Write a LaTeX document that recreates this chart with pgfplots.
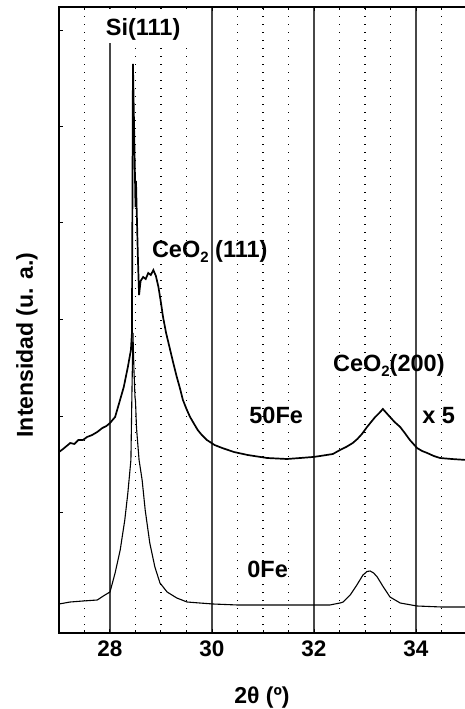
\documentclass[border=0pt]{standalone}
\usepackage{fontspec}
\setmainfont{Liberation Sans}
\usepackage{pgfplots}
\pgfplotsset{compat=1.18}
\newcommand{\sub}[1]{\raisebox{-0.4ex}{\fontsize{15}{15}\selectfont #1}}
\begin{document}
\begin{tikzpicture}[x=1pt,y=1pt]
\useasboundingbox (0,0) rectangle (464,709);
\begin{axis}[
  at={(59pt,76pt)}, anchor=south west,
  width=408pt, height=626pt, scale only axis,
  xmin=27, xmax=35, ymin=0, ymax=626,
  clip=false,
  xtick={28,30,32,34},
  minor xtick={27.5,28.5,29,29.5,30.5,31,31.5,32.5,33,33.5,34.5},
  ytick={120,216,313,410,506,602},
  yticklabels={},
  ytick pos=left,
  tick align=inside,
  major tick length=4pt, minor tick length=3pt,
  tick style={line width=1pt, black},
  xmajorgrids, xminorgrids,
  major grid style={draw=black!72, line width=1.2pt},
  minor grid style={draw=black, line width=1.3pt, dash pattern=on 1.3pt off 6.7pt},
  axis line style={line width=1.4pt},
  /pgf/number format/assume math mode=true,
  xticklabel style={font=\fontsize{22.5}{26}\selectfont\bfseries, yshift=-4pt},
]
\fill[white] (axis cs:27.72,590) rectangle (axis cs:29.78,624);
\addplot[black, line width=1.1pt] coordinates {
(27.00,29) (27.22,31) (27.47,32) (27.75,33) (27.90,38) (28.00,41) (28.10,60)
(28.20,83) (28.29,113) (28.35,140) (28.41,173) (28.43,240) (28.45,300)
(28.47,262) (28.48,250) (28.49,236) (28.50,232) (28.52,205) (28.57,173)
(28.63,153) (28.69,123) (28.78,90) (28.88,66) (28.98,50) (29.12,41) (29.31,35)
(29.51,31) (29.76,30) (30.02,29) (30.50,28) (31.00,28) (31.50,28) (32.00,28)
(32.31,28) (32.51,30) (32.57,31) (32.71,38) (32.84,48) (32.96,58) (33.04,61.5) (33.10,62)
(33.17,60) (33.24,56) (33.36,46) (33.49,36) (33.69,30) (34.02,27) (34.50,26) (34.99,26)
};
\addplot[black, line width=1.7pt] coordinates {
(27.00,181) (27.08,184) (27.15,187) (27.22,190) (27.30,189) (27.38,193) (27.47,193)
(27.55,196) (27.65,198) (27.75,201) (27.85,205) (27.93,207) (28.00,210) (28.10,216)
(28.18,230) (28.27,246) (28.35,266) (28.41,283) (28.43,300) (28.45,569)
(28.49,456) (28.50,426) (28.51,452) (28.52,430) (28.55,370) (28.57,338)
(28.60,352) (28.65,356) (28.70,354) (28.75,360) (28.80,358) (28.85,363) (28.90,357)
(28.95,346) (29.00,330) (29.04,316) (29.10,300) (29.18,283) (29.25,268) (29.31,256) (29.37,245)
(29.43,233) (29.50,224) (29.57,216) (29.65,209) (29.72,203) (29.80,198) (29.90,193)
(30.05,188) (30.20,185) (30.43,181) (30.70,178) (31.08,175) (31.47,174)
(31.73,175) (31.98,176) (32.12,177) (32.37,179) (32.51,183) (32.63,186)
(32.76,190) (32.85,194) (32.94,199) (33.04,206) (33.12,211) (33.20,216) (33.28,220)
(33.35,224) (33.42,220) (33.49,216) (33.58,211) (33.69,206) (33.78,200) (33.88,193)
(34.02,185) (34.12,182) (34.22,180) (34.35,177) (34.47,175) (34.70,174) (34.99,173)
};
\node[font=\fontsize{23.5}{27}\selectfont\bfseries, anchor=base] at (axis cs:28.65,597) {Si(111)};
\node[font=\fontsize{23.5}{27}\selectfont\bfseries, anchor=base west, inner sep=0pt] at (axis cs:28.82,375) {CeO\sub{2} (111)};
\node[font=\fontsize{23.5}{27}\selectfont\bfseries, anchor=base west, inner sep=0pt] at (axis cs:32.37,261) {CeO\sub{2}(200)};
\node[font=\fontsize{23.5}{27}\selectfont\bfseries, anchor=base west, inner sep=0pt] at (axis cs:30.73,209) {50Fe};
\node[font=\fontsize{23.5}{27}\selectfont\bfseries, anchor=base west, inner sep=0pt] at (axis cs:34.12,209) {x 5};
\node[font=\fontsize{23.5}{27}\selectfont\bfseries, anchor=base west, inner sep=0pt] at (axis cs:30.69,56) {0Fe};
\node[font=\fontsize{23}{27}\selectfont\bfseries, anchor=base, inner sep=0pt] at (axis cs:30.98,-70) {2θ (º)};
\node[font=\fontsize{23}{27}\selectfont\bfseries, anchor=base, rotate=90, inner sep=0pt] at (axis cs:26.49,288) {Intensidad (u. a.)};
\end{axis}
\end{tikzpicture}
\end{document}
